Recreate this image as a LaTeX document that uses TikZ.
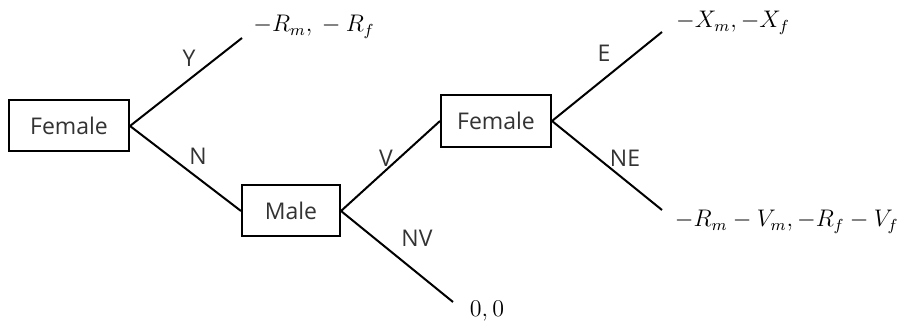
\documentclass[tikz,border=0pt]{standalone}
\usepackage{fontspec}
\setmainfont{Open Sans}
\begin{document}
\begin{tikzpicture}[x=0.5pt,y=-0.5pt,
  box/.style={draw=black,line width=1pt,inner sep=0pt,font=\fontsize{11.5}{13}\selectfont,text=black!80},
  lbl/.style={font=\fontsize{11.5}{13}\selectfont,text=black!80,inner sep=0pt},
  pay/.style={font=\fontsize{11.5}{13}\selectfont,inner sep=0pt},
  branch/.style={line width=1pt}]
\useasboundingbox (0,0) rectangle (902,324);
\node[box,minimum width=60pt,minimum height=25.5pt] (f1) at (69,126) {Female};
\node[box,minimum width=49pt,minimum height=25.5pt] (m) at (291,211) {Male};
\node[box,minimum width=55pt,minimum height=26pt] (f2) at (496,121) {Female};
\coordinate (yend) at (242,38);
\coordinate (nvend) at (453,302);
\coordinate (eend) at (662,32);
\coordinate (neend) at (662,210);
\draw[branch] (f1.east) -- (yend);
\draw[branch] (f1.east) -- (m.west);
\draw[branch] (m.east) -- (f2.west);
\draw[branch] (m.east) -- (nvend);
\draw[branch] (f2.east) -- (eend);
\draw[branch] (f2.east) -- (neend);
\node[lbl] (ly) at (189,58) {Y};
\node[lbl] (ln) at (198,156) {N};
\node[lbl] (lv) at (386,158) {V};
\node[lbl] (lnv) at (417,238) {NV};
\node[lbl] (le) at (604,53) {E};
\node[lbl] (lne) at (625,158) {NE};
\node[pay] (p1) at (314,27) {$-R_m,{} - R_f$};
\node[pay] (p2) at (733,23) {$-X_m, -X_f$};
\node[pay,anchor=east] (p3) at (899,222) {$-R_m - V_m, -R_f - V_f$};
\node[pay] (p4) at (487,311) {$0, 0$};
\end{tikzpicture}
\end{document}
